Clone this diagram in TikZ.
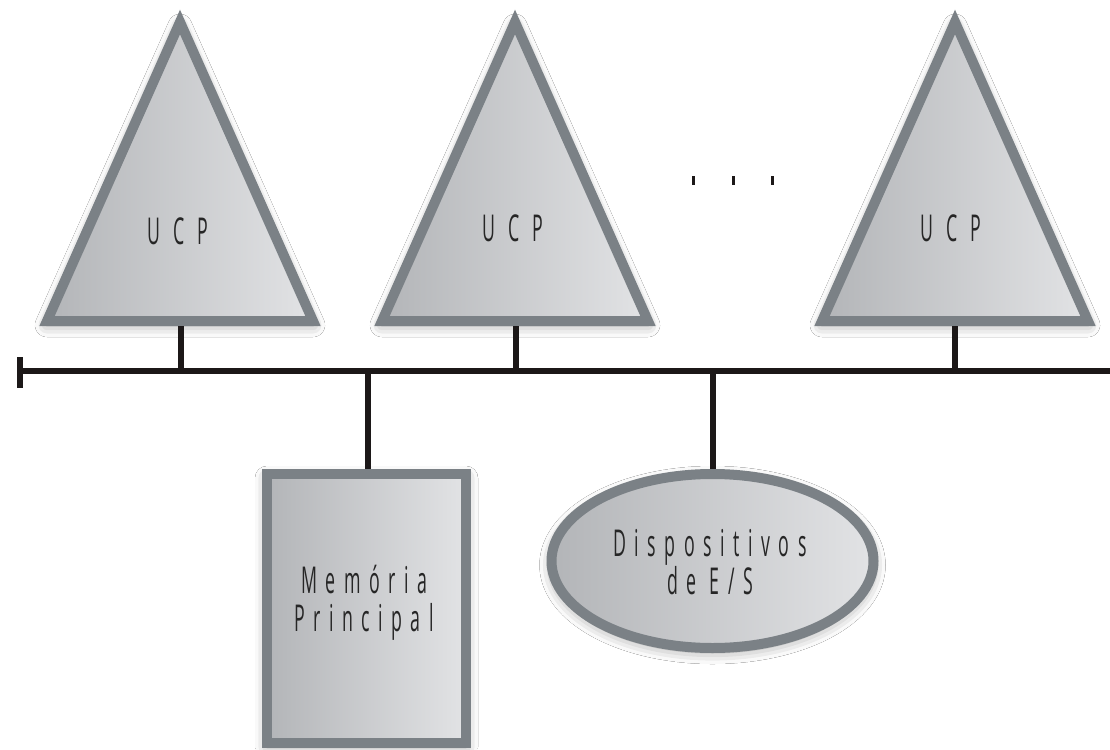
\documentclass[tikz,border=0pt]{standalone}
\usepackage{fontspec}
\newfontfamily\lblfont[FakeStretch=0.48,LetterSpace=23]{Open Sans}
\usetikzlibrary{shapes.geometric,shadows.blur}
\definecolor{edgegrey}{HTML}{7B8186}
\definecolor{fillL}{HTML}{B3B5B8}
\definecolor{fillR}{HTML}{E2E3E5}
\definecolor{busblack}{HTML}{1C1818}
\begin{document}
\begin{tikzpicture}[x=1pt,y=-1pt,
  unit/.style={draw=edgegrey, line width=10pt, left color=fillL, right color=fillR,
    line join=miter,
    blur shadow={shadow xshift=0pt, shadow yshift=-4pt, shadow blur radius=12pt, shadow opacity=40}},
  lbl/.style={font=\lblfont\fontsize{37}{38}\selectfont, text=black!85, align=center, inner sep=0pt},
  wire/.style={draw=busblack, line width=6pt},
  dotmark/.style={draw=busblack, line width=3pt},
]
\useasboundingbox (0,0) rectangle (1110,749);
\path[fill=white] (0,0) rectangle (1110,749);

% CPU triangles
\path[unit] (47,321) -- (180,22) -- (313,321) -- cycle;
\path[unit] (382,321) -- (515,22) -- (648,321) -- cycle;
\path[unit] (822,321) -- (955,22) -- (1088,321) -- cycle;
\node[lbl] (cpu1) at (178,231) {U C P};
\node[lbl] (cpu2) at (513,228) {U C P};
\node[lbl] (cpu3) at (951,228) {U C P};

% dots
\coordinate (d1t) at (693,176); \coordinate (d1b) at (693,185);
\coordinate (d2t) at (733,176); \coordinate (d2b) at (733,185);
\coordinate (d3t) at (772,176); \coordinate (d3b) at (772,185);
\draw[dotmark] (d1t) -- (d1b);
\draw[dotmark] (d2t) -- (d2b);
\draw[dotmark] (d3t) -- (d3b);

% bus
\coordinate (busL) at (20,371);
\coordinate (busR) at (1110,371);
\coordinate (tickT) at (20,357);
\coordinate (tickB) at (20,388);
\draw[wire] (busL) -- (busR);
\draw[wire] (tickT) -- (tickB);

% CPU stems
\coordinate (t1) at (181,326); \coordinate (b1) at (181,371);
\coordinate (t2) at (516,326); \coordinate (b2) at (516,371);
\coordinate (t3) at (955,326); \coordinate (b3) at (955,371);
\draw[wire] (t1) -- (b1);
\draw[wire] (t2) -- (b2);
\draw[wire] (t3) -- (b3);

% memory and I/O
\node[unit, rectangle, minimum width=199pt, minimum height=269pt, inner sep=0pt] (membox) at (366.5,608.5) {};
\node[lbl] (mem) at (364,603) {Memória\\Principal};
\node[unit, ellipse, minimum width=322pt, minimum height=174pt, inner sep=0pt] (io) at (712.5,561) {};
\node[lbl] (iotext) at (710,562) {Dispositivos\\de E/S};

\coordinate (b4) at (368,371);
\coordinate (b5) at (713,371);
\draw[wire] (b4) -- (b4 |- membox.north);
\draw[wire] (b5) -- (b5 |- io.north);
\end{tikzpicture}
\end{document}
